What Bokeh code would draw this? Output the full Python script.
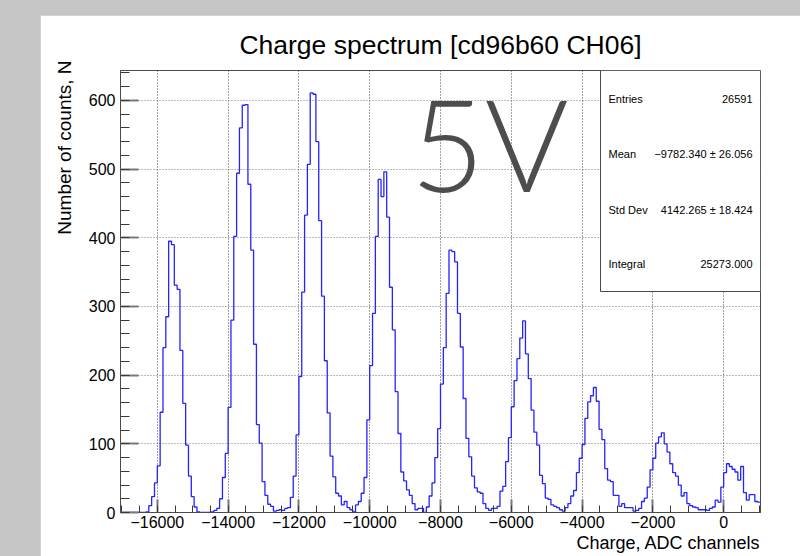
import numpy as np
from bokeh.plotting import figure
from bokeh.models import FixedTicker, Label, BoxAnnotation, Range1d, GlobalInlineStyleSheet, Title
from bokeh.embed import file_html
from bokeh.resources import INLINE

# ---------------- data ----------------
bin_start = -17040
bin_width = 80
counts = [
    0, 0, 0, 0, 0, 0, 0, 0, 0, 1,
    10, 23, 43, 68, 146, 240, 285, 395, 390, 331,
    325, 236, 159, 98, 53, 23, 8, 1, 0, 0,
    0, 0, 1, 3, 6, 20, 51, 86, 153, 280,
    402, 494, 560, 593, 594, 478, 382, 245, 128, 101,
    45, 25, 12, 9, 2, 3, 4, 3, 6, 7,
    22, 53, 113, 198, 321, 433, 507, 611, 609, 540,
    425, 315, 221, 145, 82, 52, 28, 24, 11, 16,
    7, 4, 1, 11, 16, 28, 51, 135, 214, 290,
    402, 485, 460, 496, 430, 328, 266, 176, 115, 59,
    46, 33, 25, 13, 4, 6, 6, 0, 8, 24,
    43, 80, 122, 187, 240, 319, 382, 380, 365, 290,
    241, 166, 108, 81, 53, 36, 30, 28, 13, 6,
    3, 6, 6, 9, 31, 38, 74, 109, 154, 192,
    224, 254, 279, 231, 195, 149, 117, 98, 54, 42,
    21, 19, 11, 9, 7, 4, 2, 7, 13, 24,
    32, 58, 79, 99, 137, 161, 170, 182, 162, 121,
    106, 64, 47, 45, 25, 25, 9, 13, 7, 7,
    7, 2, 3, 6, 16, 21, 37, 62, 79, 101,
    110, 116, 100, 88, 71, 58, 53, 40, 24, 29,
    13, 10, 8, 7, 4, 4, 4, 3, 6, 8,
    18, 15, 37, 58, 71, 67, 63, 59, 47, 67,
    29, 18, 26, 26, 16, 15,
]
x_ticks = [-16000, -14000, -12000, -10000, -8000, -6000, -4000, -2000, 0]
y_ticks = [0, 100, 200, 300, 400, 500, 600]
x_minor = list(range(-17000, 1001, 500))
y_minor = list(range(0, 641, 20))

title_text = "Charge spectrum [cd96b60 CH06]"
x_title = "Charge, ADC channels"
y_title = "Number of counts, N"
stat_names = ["Entries", "Mean", "Std Dev", "Integral"]
stat_values = ["26591", "\u22129782.340 \u00b1 26.056", "4142.265 \u00b1 18.424", "25273.000"]
big_text = "5V"

# ---------------- figure ----------------
FONT = "Liberation Sans"
p = figure(width=760, height=541, output_backend="svg", toolbar_location=None,
           x_range=Range1d(bin_start, bin_start + bin_width * len(counts)),
           y_range=Range1d(0, 643.6),
           min_border_left=80, min_border_right=40, min_border_top=55, min_border_bottom=44)
p.stylesheets = [GlobalInlineStyleSheet(css="body{margin:15px 0 0 40px !important;background:#c6c6c6;}")]
p.styles = {"box-shadow": "-3px -1px 5px rgba(0,0,0,0.45)"}
p.background_fill_color = "white"
p.border_fill_color = "white"
p.outline_line_color = "#4a4a4a"
p.outline_line_width = 1

# main title
p.title.text = title_text
p.title.align = "center"
p.title.text_font = FONT
p.title.text_font_size = "26.5px"
p.title.text_font_style = "normal"
p.title.text_color = "black"
p.title.standoff = 22
p.title.offset = -7

edges = bin_start + bin_width * np.arange(len(counts) + 1)
p.step(x=edges, y=counts + [counts[-1]], mode="after", line_color="#2424ff", line_width=1.3)

def fmt(t):
    return ("\u2212" + str(abs(t))) if t < 0 else str(t)

p.xaxis.ticker = FixedTicker(ticks=x_ticks, minor_ticks=x_minor)
p.yaxis.ticker = FixedTicker(ticks=y_ticks, minor_ticks=y_minor)
p.xaxis.major_label_overrides = {t: fmt(t) for t in x_ticks}
p.yaxis.major_label_overrides = {t: fmt(t) for t in y_ticks}
for ax in (p.xaxis, p.yaxis):
    ax.axis_line_color = "#4a4a4a"
    ax.major_tick_out = 0
    ax.minor_tick_out = 0
    ax.major_tick_line_color = "#7a7a7a"
    ax.major_tick_line_width = 2
    ax.minor_tick_line_color = "#3a3a3a"
    ax.minor_tick_line_width = 1
    ax.major_label_text_font = FONT
    ax.major_label_text_font_size = "16px"
    ax.major_label_text_color = "black"
p.xaxis.major_tick_in = 13
p.xaxis.minor_tick_in = 7
p.yaxis.major_tick_in = 18
p.yaxis.minor_tick_in = 9
p.xaxis.major_label_standoff = 3
p.yaxis.major_label_standoff = 5

p.xgrid.grid_line_color = "#444444"
p.xgrid.grid_line_dash = "1 2"
p.ygrid.grid_line_color = "#777777"
p.ygrid.grid_line_dash = "1 2"

# axis titles (ROOT style: right / top aligned)
p.add_layout(Title(text=x_title, align="right", text_font=FONT, text_font_size="18px",
                   text_font_style="normal", text_color="black", standoff=0), "below")
p.add_layout(Title(text=y_title, align="right", text_font=FONT, text_font_size="19px",
                   text_font_style="normal", text_color="black", standoff=22, offset=-10), "left")

# stats box
p.add_layout(BoxAnnotation(left=480, right=640, bottom=221, top=442,
                           left_units="screen", right_units="screen",
                           bottom_units="screen", top_units="screen",
                           fill_color="white", fill_alpha=1.0,
                           line_color="#4a4a4a", line_width=1, line_alpha=1.0))
stat_y = [414, 359, 303, 249]
for name, val, yy in zip(stat_names, stat_values, stat_y):
    p.add_layout(Label(x=488, y=yy, x_units="screen", y_units="screen", text=name,
                       text_font=FONT, text_font_size="11px", text_color="black",
                       text_align="left", text_baseline="middle"))
    p.add_layout(Label(x=632, y=yy, x_units="screen", y_units="screen", text=val,
                       text_font=FONT, text_font_size="11px", text_color="black",
                       text_align="right", text_baseline="middle"))

# big annotation
p.add_layout(Label(x=290, y=370, x_units="screen", y_units="screen", text=big_text,
                   text_font="Lato Light", text_font_size="128px",
                   text_color="#4d4d4d", text_align="left", text_baseline="alphabetic"))

open("out.html", "w").write(file_html(p, INLINE))
